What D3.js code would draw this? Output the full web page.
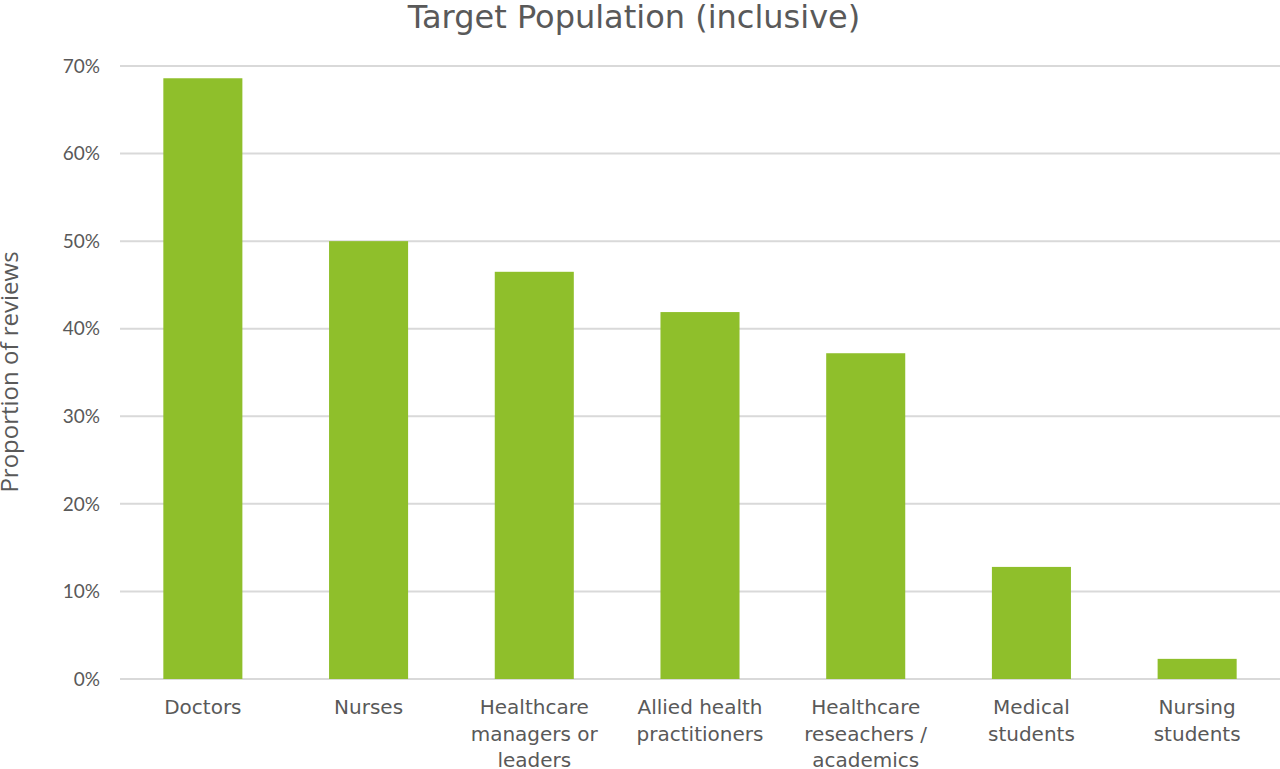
<!DOCTYPE html>
<html><head><meta charset="utf-8">
<script src="https://cdn.jsdelivr.net/npm/d3@7"></script>
<style>body{margin:0;background:#fff}svg{display:block}</style>
</head><body><svg id="c" width="1280" height="769"></svg>
<script>
const categories = [
  ["Doctors"],
  ["Nurses"],
  ["Healthcare","managers or","leaders"],
  ["Allied health","practitioners"],
  ["Healthcare","reseachers /","academics"],
  ["Medical","students"],
  ["Nursing","students"]
];
const values = [0.686, 0.500, 0.465, 0.419, 0.372, 0.128, 0.023];
const yTicks = [0,0.1,0.2,0.3,0.4,0.5,0.6,0.7];
const title = "Target Population (inclusive)";
const yTitle = "Proportion of reviews";

const svg = d3.select("#c");
const m = {left:120, right:1280, top:66, bottom:679};
const keys = categories.map(c=>c.join(" "));
const x = d3.scaleBand().domain(keys).range([m.left,m.right]).paddingInner(0.523).paddingOuter(0.2615);
const y = d3.scaleLinear().domain([0,0.7]).range([m.bottom,m.top]);

svg.append("g").selectAll("line").data(yTicks).join("line")
  .attr("x1",m.left).attr("x2",m.right)
  .attr("y1",d=>y(d)).attr("y2",d=>y(d))
  .attr("stroke","#d9d9d9").attr("stroke-width",2);

svg.append("g").selectAll("rect").data(values).join("rect")
  .attr("x",(d,i)=>x(keys[i])).attr("width",x.bandwidth())
  .attr("y",d=>y(d)).attr("height",d=>y(0)-y(d))
  .attr("fill","#8fbf2b");

svg.append("g").selectAll("text").data(yTicks).join("text")
  .attr("x",100).attr("y",d=>y(d)).attr("dy","0.35em")
  .attr("text-anchor","end").attr("fill","#595959")
  .attr("font-family","Lato, sans-serif").attr("font-size",19)
  .text(d=>d3.format(".0%")(d));

const cl = svg.append("g").selectAll("text").data(categories).join("text")
  .attr("text-anchor","middle").attr("fill","#595959")
  .attr("font-family","DejaVu Sans, sans-serif").attr("font-size",20);
cl.each(function(c,i){
  const t = d3.select(this);
  c.forEach((line,j)=>{
    t.append("tspan").attr("x",x(keys[i])+x.bandwidth()/2).attr("y",714+j*26.5).text(line);
  });
});

svg.append("text").attr("x",634).attr("y",28).attr("text-anchor","middle")
  .attr("fill","#595959").attr("font-family","DejaVu Sans, sans-serif").attr("font-size",32)
  .text(title);

svg.append("text").attr("transform","translate(18,372) rotate(-90)")
  .attr("text-anchor","middle").attr("fill","#595959")
  .attr("font-family","Open Sans, sans-serif").attr("font-size",24)
  .text(yTitle);
</script></body></html>
